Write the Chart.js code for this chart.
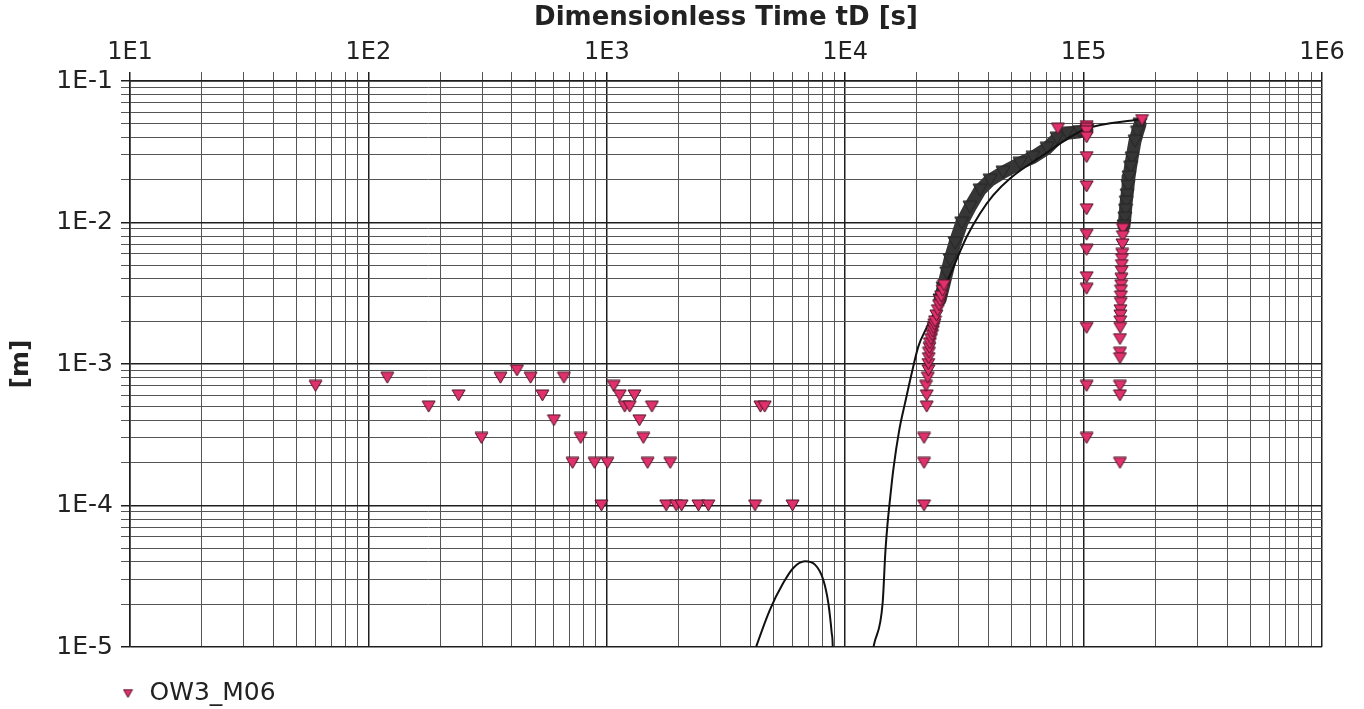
<!DOCTYPE html>
<html>
<head>
<meta charset="utf-8">
<title>OW3_M06 drawdown</title>
<script src="https://cdn.jsdelivr.net/npm/chart.js@4.4.1/dist/chart.umd.min.js"></script>
<style>
  html, body { margin: 0; padding: 0; background: #fff; }
  #wrap { width: 1364px; height: 709px; position: relative; }
</style>
</head>
<body>
<div id="wrap"><canvas id="chart"></canvas></div>
<script>
// Axis decades (labels) and the mantissas that get a grid line inside each decade
const xTickLabels = ['1E1', '1E2', '1E3', '1E4', '1E5', '1E6'];
const yTickLabels = ['1E-5', '1E-4', '1E-3', '1E-2', '1E-1'];
const gridMantissas = [1, 2, 3, 4, 5, 6, 7, 8, 9];

// OW3_M06 readings, time [s] / drawdown [m]
// early readings at instrument resolution
const earlyTime = [60, 120, 179, 239, 298, 358, 420, 479, 537, 600, 661, 718, 777, 889, 949, 1006, 1069, 1133,
  1306, 1189, 1248, 1370, 1546, 1423, 1483, 1845, 1775, 1954, 2059, 2422, 2667, 4185, 4409, 4596, 6012];
const earlyDrawdown = [7e-4, 8e-4, 5e-4, 6e-4, 3e-4, 8e-4, 9e-4, 8e-4, 6e-4, 4e-4, 8e-4, 2e-4, 3e-4, 2e-4, 1e-4, 2e-4, 7e-4, 6e-4,
  6e-4, 5e-4, 5e-4, 4e-4, 5e-4, 3e-4, 2e-4, 2e-4, 1e-4, 1e-4, 1e-4, 1e-4, 1e-4, 1e-4, 5e-4, 5e-4, 1e-4];
// start of the pumping response
const riseTime = [21410, 21410, 21410, 21980, 21980, 21830, 22200, 22340, 22340,
  22400, 22460, 22570, 22650, 22900, 23130, 23300, 23490, 23640, 23810, 24130, 24460, 24750, 25010, 25260, 25620, 25950];
const riseDrawdown = [1e-4, 2e-4, 3e-4, 5e-4, 6e-4, 7e-4, 8e-4, 9e-4, 1e-3,
  1.1e-3, 1.2e-3, 1.3e-3, 1.4e-3, 1.5e-3, 1.6e-3, 1.7e-3, 1.8e-3, 1.9e-3, 2.0e-3, 2.2e-3, 2.4e-3, 2.6e-3, 2.8e-3, 3.0e-3, 3.3e-3, 3.6e-3];
// readings logged at t = 1.03E5 s and around it
const stepTime = [78000, 103000, 103000, 103000, 103000, 103000, 103000, 103000, 103000, 103000, 103000, 103000, 103000, 103000, 103000];
const stepDrawdown = [0.046, 0.048, 0.046, 0.044, 0.040, 0.029, 0.018, 0.0124, 0.0082, 0.0064, 0.0041, 0.0034, 0.0018, 0.0007, 0.0003];
// late readings (maximum and the column below it)
const lateTime = [175800, 146300, 146000, 145600, 145200, 144900, 144600, 144400, 144100, 143800, 143500, 143400, 143100,
  142800, 142700, 142500, 142400, 142100, 142100, 142100, 142100, 142100, 142100];
const lateDrawdown = [0.053, 9e-3, 8e-3, 7e-3, 6e-3, 5.5e-3, 5e-3, 4.5e-3, 4e-3, 3.6e-3, 3.3e-3, 3e-3, 2.7e-3,
  2.4e-3, 2.2e-3, 2e-3, 1.8e-3, 1.5e-3, 1.2e-3, 1.1e-3, 7e-4, 6e-4, 2e-4];

// densely logged stretches (continuous runs of readings)
const denseRiseTime = [24980, 25720, 26660, 27520, 28880, 30810, 33380, 36770, 40500, 45910, 54100, 61340, 70230, 77330, 85200, 96580, 103300];
const denseRiseDrawdown = [2.834e-3, 3.44e-3, 4.40e-3, 5.44e-3, 7.16e-3, 9.90e-3, 0.01284, 0.01693, 0.01991, 0.02268, 0.02625, 0.02893, 0.0335, 0.0394, 0.04275, 0.04379, 0.04488];
const denseLateTime = [172460, 168300, 164300, 159600, 157300, 155000, 153600, 152100, 150900, 149900, 148900, 147700];
const denseLateDrawdown = [0.0495, 0.04345, 0.03754, 0.02848, 0.0246, 0.02091, 0.01806, 0.01561, 0.01393, 0.01224, 0.01074, 0.00943];

// analytical curve, two branches
const curveTime = [12770, 13210, 14365, 14730, 15020, 15410, 15910, 16860, 17820, 19010, 20260, 21830, 23580,
  28880, 32340, 36770, 41800, 49130, 65630, 101400, 172460];
const curveDrawdown = [7.87e-6, 1.041e-5, 2.07e-5, 4.62e-5, 7.12e-5, 1.099e-4, 1.789e-4, 3.426e-4, 5.288e-4, 8.61e-4, 1.327e-3, 1.769e-3, 2.294e-3,
  5.145e-3, 7.93e-3, 0.01159, 0.01561, 0.02048, 0.02893, 0.04561, 0.05366];
const humpTime = [4042, 4255, 4837, 5502, 6058, 6783, 7467, 8090, 8494, 8777, 8862, 8886];
const humpDrawdown = [7.9e-6, 1.03e-5, 1.84e-5, 2.84e-5, 3.62e-5, 4.03e-5, 3.82e-5, 2.99e-5, 2.05e-5, 1.26e-5, 1.03e-5, 7.9e-6];

const toPoints = (xs, ys) => xs.map((x, i) => ({ x, y: ys[i] }));

// inverted-triangle marker images
function triangleMarker(w, h, fill, stroke) {
  const c = document.createElement('canvas');
  c.width = w + 2;
  c.height = h + 2;
  const g = c.getContext('2d');
  g.beginPath();
  g.moveTo(1, 1);
  g.lineTo(w + 1, 1);
  g.lineTo(w / 2 + 1, h + 1);
  g.closePath();
  g.fillStyle = fill;
  g.fill();
  g.lineWidth = 1;
  g.strokeStyle = stroke;
  g.stroke();
  return c;
}
const pinkMarker = triangleMarker(13, 11, '#e2306c', '#4a1326');
const darkMarker = triangleMarker(14, 12, '#363636', '#262626');
const legendMarker = triangleMarker(9, 8, '#e2306c', '#4a1326');

// decade grid: 1..9 x 10^n, labels only on the powers of ten
function decadeTicks(labels) {
  const exps = labels.map(l => Number(l.slice(2)));
  const values = [];
  const names = new Map();
  exps.forEach((e, i) => {
    names.set(Number('1e' + e), labels[i]);
    if (i < exps.length - 1) {
      gridMantissas.forEach(m => values.push(Number(m + 'e' + e)));
    } else {
      values.push(Number('1e' + e));
    }
  });
  return { values, names, min: values[0], max: values[values.length - 1] };
}
const xGrid = decadeTicks(xTickLabels);
const yGrid = decadeTicks(yTickLabels);

const gridColor = names => ctx => (ctx.tick && names.has(ctx.tick.value)) ? '#1e1e1e' : '#555';
const gridWidth = names => ctx => (ctx.tick && names.has(ctx.tick.value)) ? 1.5 : 1;

// moves the legend row to its place under the plot
const legendPlacement = {
  id: 'legendPlacement',
  beforeDraw(chart, args, opts) {
    const lg = chart.legend;
    if (!lg) return;
    const dx = opts.left - lg.left;
    const dy = opts.top - lg.top;
    lg.left += dx; lg.right += dx;
    lg.top += dy; lg.bottom += dy;
  }
};

Chart.defaults.font.family = "'DejaVu Sans', Verdana, sans-serif";
Chart.defaults.color = '#222';

const denseStyle = {
  showLine: true,
  borderColor: '#363636',
  borderWidth: 13,
  borderCapStyle: 'round',
  borderJoinStyle: 'round',
  pointStyle: darkMarker,
  pointRadius: 6,
  order: 2
};

new Chart(document.getElementById('chart'), {
  type: 'scatter',
  data: {
    datasets: [
      {
        label: 'OW3_M06',
        data: toPoints([...earlyTime, ...riseTime, ...stepTime, ...lateTime],
                       [...earlyDrawdown, ...riseDrawdown, ...stepDrawdown, ...lateDrawdown]),
        pointStyle: pinkMarker,
        pointRadius: 6,
        showLine: false,
        order: 0
      },
      {
        label: 'curve',
        data: toPoints(curveTime, curveDrawdown),
        showLine: true,
        borderColor: '#111',
        borderWidth: 2,
        pointRadius: 0,
        cubicInterpolationMode: 'monotone',
        order: 1
      },
      {
        label: 'curve2',
        data: toPoints(humpTime, humpDrawdown),
        showLine: true,
        borderColor: '#111',
        borderWidth: 2,
        pointRadius: 0,
        cubicInterpolationMode: 'monotone',
        order: 1
      },
      Object.assign({ label: 'rise', data: toPoints(denseRiseTime, denseRiseDrawdown) }, denseStyle),
      Object.assign({ label: 'late', data: toPoints(denseLateTime, denseLateDrawdown) }, denseStyle)
    ]
  },
  options: {
    responsive: true,
    maintainAspectRatio: false,
    animation: false,
    events: [],
    layout: { padding: { left: 0, right: 42, top: 0, bottom: 17 } },
    scales: {
      x: {
        type: 'logarithmic',
        position: 'top',
        min: xGrid.min,
        max: xGrid.max,
        afterBuildTicks: s => { s.ticks = xGrid.values.map(v => ({ value: v })); },
        afterFit: s => { s.height = 81; },
        ticks: {
          autoSkip: false,
          maxRotation: 0,
          padding: 5,
          font: { size: 24 },
          color: '#222',
          callback: v => xGrid.names.get(v) || ''
        },
        grid: {
          color: gridColor(xGrid.names),
          lineWidth: gridWidth(xGrid.names),
          tickLength: 9
        },
        border: { display: true, color: '#1e1e1e', width: 1.5 },
        title: {
          display: true,
          text: 'Dimensionless Time tD [s]',
          font: { size: 26, weight: 'bold' },
          color: '#222',
          padding: { top: 3, bottom: 0 }
        }
      },
      y: {
        type: 'logarithmic',
        position: 'left',
        min: yGrid.min,
        max: yGrid.max,
        afterBuildTicks: s => { s.ticks = yGrid.values.map(v => ({ value: v })); },
        afterFit: s => { s.width = 130; },
        ticks: {
          autoSkip: false,
          padding: 8,
          font: { size: 25 },
          color: '#222',
          callback: v => yGrid.names.get(v) || ''
        },
        grid: {
          color: gridColor(yGrid.names),
          lineWidth: gridWidth(yGrid.names),
          tickLength: 9
        },
        border: { display: true, color: '#1e1e1e', width: 1.5 },
        title: {
          display: true,
          text: '[m]',
          font: { size: 25, weight: 'bold' },
          color: '#222',
          padding: { top: 6, bottom: 0 }
        }
      }
    },
    plugins: {
      tooltip: { enabled: false },
      legendPlacement: { left: 109, top: 671 },
      legend: {
        display: true,
        position: 'bottom',
        align: 'start',
        labels: {
          usePointStyle: true,
          pointStyle: legendMarker,
          boxWidth: 18,
          padding: 10,
          color: '#222',
          font: { size: 25 },
          filter: item => item.datasetIndex === 0
        }
      }
    }
  },
  plugins: [legendPlacement]
});
</script>
</body>
</html>
